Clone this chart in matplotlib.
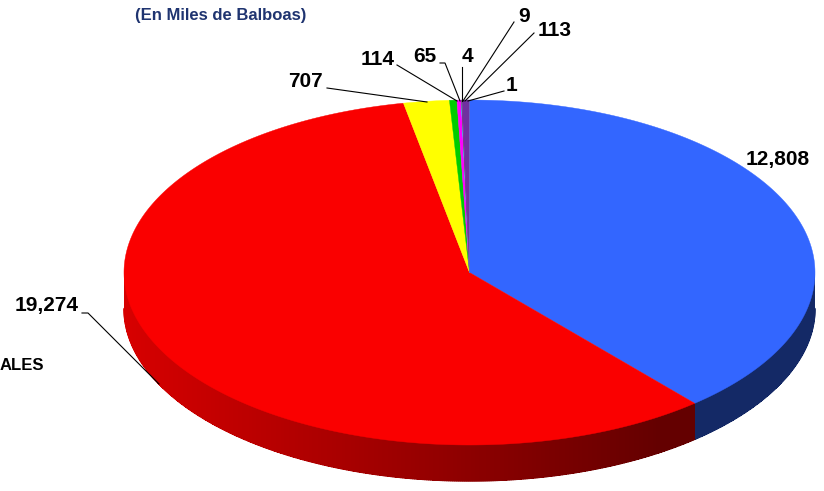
import numpy as np
import matplotlib
matplotlib.use("Agg")
import matplotlib.pyplot as plt
from matplotlib.collections import PolyCollection, LineCollection

# slice values, clockwise from 12 o'clock (miles de balboas)
values = [12808, 19274, 707, 114, 65, 4, 9, 113, 1]
labels = ["12,808", "19,274", "707", "114", "65", "4", "9", "113", "1"]
colors = ["#3366FF", "#FA0000", "#FFFF00", "#00CC00", "#FF00FF",
          "#00FFFF", "#993366", "#7030A0", "#6666CC"]

subtitle = "(En Miles de Balboas)"
side_text = "ALES"

# layout of the 3d pie (pixels, y grows downwards)
cx, cy = 469.5, 272.5
rx, ry = 345.5, 172.5
depth = 36

# label text centres and leader line paths (layout only)
label_pos = [(778, 160), (47, 305), (305, 81), (378, 59), (425, 56),
             (467, 56), (524, 16), (555, 30), (512, 85)]
leaders = [None,
           [(82, 313), (88, 313), (159, 384)],
           [(327, 88), (427, 102)],
           [(397, 65), (457, 101)],
           [(440, 63), (445, 63), (460, 101)],
           [(462, 67), (462, 101)],
           [(514, 22), (463, 101)],
           [(534, 33), (465, 101)],
           [(504, 91), (468, 101)]]


def rim(t):
    return cx + rx * np.cos(np.radians(t)), cy - ry * np.sin(np.radians(t))


def shade(hexcol, x):
    # darker towards the right of the front wall
    f = np.clip(0.86 - 0.00086 * (x - 124), 0.40, 1.0)
    r, g, b = matplotlib.colors.to_rgb(hexcol)
    return (r * f, g * f, b * f)


fig = plt.figure(figsize=(8.24, 4.91), dpi=100)
ax = fig.add_axes([0, 0, 1, 1])
ax.set_xlim(0, 824)
ax.set_ylim(491, 0)
ax.axis("off")

frac = np.array(values, dtype=float) / sum(values)
edges = 90 - np.concatenate([[0], np.cumsum(frac)]) * 360

# front wall, split in thin strips so the shading can vary
for i, col in enumerate(colors):
    t0, t1 = edges[i], edges[i + 1]
    # visible wall is where the angle points down (-180..0)
    lo, hi = max(t1, -180), min(t0, 0)
    if lo >= hi:
        continue
    ts = np.linspace(hi, lo, max(int((hi - lo) * 3), 2))
    polys, fcs, segs = [], [], []
    for a, b in zip(ts[:-1], ts[1:]):
        xa, ya = rim(a)
        xb, yb = rim(b)
        polys.append([(xa, ya), (xb, yb), (xb, yb + depth), (xa, ya + depth)])
        segs.append([(xa, ya + depth), (xb, yb + depth)])
        fcs.append(shade(col, (xa + xb) / 2))
    ax.add_collection(PolyCollection(polys, facecolors=fcs, edgecolors="none",
                                     antialiased=False, zorder=1))
    # smooth lower rim
    ax.add_collection(LineCollection(segs, colors=fcs, linewidths=1.0,
                                     capstyle="round", zorder=1))

# top faces
for i, col in enumerate(colors):
    ts = np.linspace(edges[i], edges[i + 1], max(int(abs(edges[i] - edges[i + 1]) * 2), 2))
    xs, ys = rim(ts)
    pts = np.column_stack([np.r_[cx, xs], np.r_[cy, ys]])
    ax.add_patch(plt.Polygon(pts, closed=True, facecolor=col, edgecolor=col,
                             linewidth=0.3, zorder=2))

# data labels with leader lines
for lab, (x, y), path in zip(labels, label_pos, leaders):
    ax.text(x, y, lab, ha="center", va="center", fontsize=15,
            fontweight="bold", family="Liberation Sans", zorder=4)
    if path:
        px, py = zip(*path)
        ax.plot(px, py, color="black", lw=0.8, zorder=3)

ax.text(221, 15, subtitle, ha="center", va="center", fontsize=12,
        fontweight="bold", color="#1F3470", family="Liberation Sans")
ax.text(44, 365, side_text, ha="right", va="center", fontsize=12,
        fontweight="bold", family="Liberation Sans")

fig.savefig("out.png", dpi=100)
